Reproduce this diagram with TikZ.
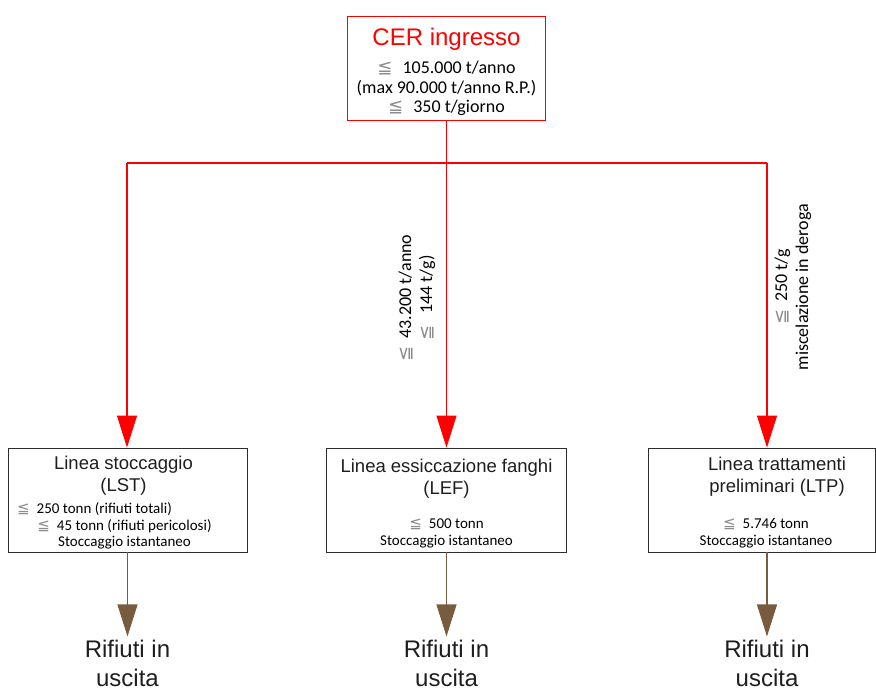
\documentclass[tikz,border=0pt]{standalone}
\usepackage{fontspec}
\setmainfont{Carlito}
\newfontfamily\arialfont{Liberation Sans}
\newfontfamily\dejafont{DejaVu Sans}
\usetikzlibrary{positioning, arrows.meta}

\definecolor{flowred}{RGB}{255,0,0}
\definecolor{exitbrown}{RGB}{121,92,62}
\definecolor{boxgray}{RGB}{45,45,45}
\definecolor{textdark}{RGB}{30,30,30}
\newcommand{\leqmark}{{\dejafont\color{black!45}≦}}

\begin{document}
\begin{tikzpicture}[
        x=1pt,
        y=1pt,
        >={Triangle[width=20pt, length=32pt]},
        inflow/.style={draw=flowred, line width=1.2pt},
        outflow/.style={draw=exitbrown, line width=1.2pt, ->},
        cerbox/.style={draw=flowred, line width=0.9pt, minimum width=198pt, minimum height=104pt},
        linebox/.style={draw=boxgray, line width=0.9pt, minimum height=104pt},
        boxtitle/.style={align=center, inner sep=0pt, text=textdark, font=\arialfont\fontsize{18.5}{22.5}\selectfont},
        boxnote/.style={align=center, inner sep=0pt, font=\fontsize{15}{16.5}\selectfont},
        rates/.style={align=center, inner sep=0pt, font=\fontsize{18}{19.5}\selectfont},
        exitnode/.style={align=center, inner sep=1pt, text=textdark, font=\arialfont\fontsize{24}{29.5}\selectfont},
        ratelabel/.style={rotate=90, align=center, inner sep=0pt, font=\fontsize{18}{21}\selectfont}
    ]
    \useasboundingbox (0,0) rectangle (876,691);

    % ingresso
    \node[cerbox] (cer) at (446.5,623) {};
    \node[below=12pt of cer.north, inner sep=0pt, text=flowred, font=\arialfont\fontsize{24}{28}\selectfont] (certitle) {CER ingresso};
    \node[rates, above=4.5pt of cer.south] (cerrates) {\leqmark\hspace{10pt}105.000 t/anno\\(max 90.000 t/anno R.P.)\\\leqmark\hspace{10pt}350 t/giorno};

    % linee
    \node[linebox, minimum width=239pt] (lst) at (127.5,191) {};
    \node[linebox, minimum width=240pt] (lef) at (446.5,191) {};
    \node[linebox, minimum width=227pt] (ltp) at (761.5,191) {};

    \node[boxtitle, below=8pt of lst.north, xshift=-4pt] (lsttitle) {Linea stoccaggio\\(LST)};
    \node[boxtitle, below=11pt of lef.north] (leftitle) {Linea essiccazione fanghi\\(LEF)};
    \node[boxtitle, below=9pt of ltp.north, xshift=15.5pt] (ltptitle) {Linea trattamenti\\preliminari (LTP)};

    \node[boxnote, above=3pt of lst.south, xshift=-3pt] (lstnote) {\leqmark\hspace{7pt}250 tonn (rifiuti totali)\hspace*{60pt}\\\leqmark\hspace{7pt}45 tonn (rifiuti pericolosi)\\Stoccaggio istantaneo};
    \node[boxnote, above=4.5pt of lef.south] (lefnote) {\leqmark\hspace{7pt}500 tonn\\Stoccaggio istantaneo};
    \node[boxnote, above=4.5pt of ltp.south, xshift=4.5pt] (ltpnote) {\leqmark\hspace{7pt}5.746 tonn\\Stoccaggio istantaneo};

    % flussi in ingresso
    \coordinate (jl) at (127,528);
    \coordinate (jr) at (767,528);
    \draw[inflow, ->] (cer.south) -- (lef.north);
    \draw[inflow] (jl) -- (jr);
    \draw[inflow, ->] (jl) -- (jl |- lst.north);
    \draw[inflow, ->] (jr) -- (jr |- ltp.north);

    \node[ratelabel] (lefrate) at (417,393) {\leqmark\hspace{8pt}43.200 t/anno\\\leqmark\hspace{12pt}144 t/g)};
    \node[ratelabel] (ltprate) at (793,404) {\leqmark\hspace{8pt}250 t/g\\miscelazione in deroga};

    % uscite
    \node[exitnode, below=86pt of lst] (lstexit) {Rifiuti in\\uscita};
    \node[exitnode, below=86pt of lef] (lefexit) {Rifiuti in\\uscita};
    \node[exitnode, below=86pt of ltp, xshift=5.5pt] (ltpexit) {Rifiuti in\\uscita};

    \draw[outflow] (lstexit.north |- lst.south) -- ([yshift=2pt]lstexit.north);
    \draw[outflow] (lefexit.north |- lef.south) -- ([yshift=2pt]lefexit.north);
    \draw[outflow] (ltpexit.north |- ltp.south) -- ([yshift=2pt]ltpexit.north);
\end{tikzpicture}
\end{document}
